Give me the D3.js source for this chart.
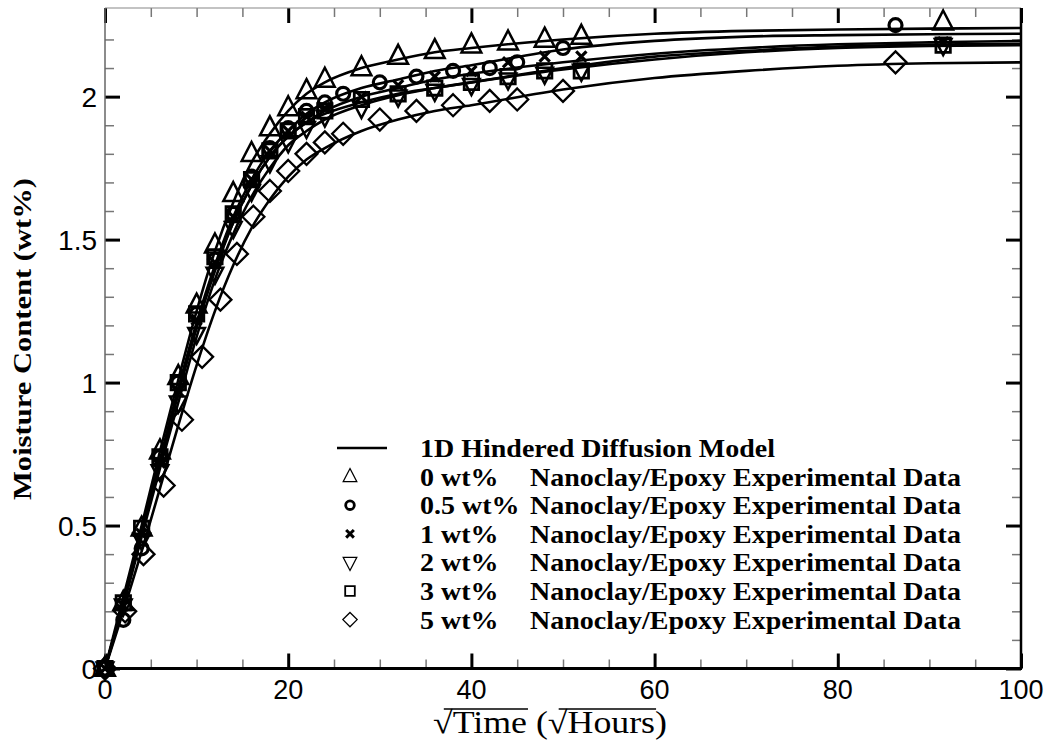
<!DOCTYPE html>
<html><head><meta charset="utf-8">
<script src="https://cdn.jsdelivr.net/npm/d3@7/dist/d3.min.js"></script>
<style>body{margin:0;background:#fff}svg{display:block}</style>
</head><body><svg id="c" width="1048" height="742"></svg>
<script>
// ---------- data ----------
const xTickValues = [0, 20, 40, 60, 80, 100];
const xTickLabels = ["0", "20", "40", "60", "80", "100"];
const yTickValues = [0, 0.5, 1, 1.5, 2];
const yTickLabels = ["0", "0.5", "1", "1.5", "2"];
const seriesLabels = ["0 wt%", "0.5 wt%", "1 wt%", "2 wt%", "3 wt%", "5 wt%"];
const legendSuffix = "Nanoclay/Epoxy Experimental Data";
const modelLabel = "1D Hindered Diffusion Model";
const xTitleParts = ["\u221A", "Time", " (", "\u221A", "Hours", ")"];
const yTitle = "Moisture Content (wt%)";

// sqrt(time) of measurements
const timeA = [0, 2, 4, 6, 8, 10, 12, 14, 16, 18, 20, 22, 24, 28, 32, 36, 40, 44, 48, 52, 91.5];
const timeB = [0, 2, 4, 6, 8, 10, 12, 14, 16, 18, 20, 22, 24, 26, 30, 34, 38, 42, 45, 50, 86.3];
const timeD = [0, 2.2, 4.2, 6.4, 8.4, 10.6, 12.6, 14.4, 16.2, 18, 20, 22, 24, 26, 30, 34, 38, 42, 45, 50, 86.3];

// measured moisture content (wt%)
const data0  = [0, 0.23, 0.49, 0.76, 1.02, 1.27, 1.48, 1.66, 1.80, 1.89, 1.96, 2.02, 2.06, 2.10, 2.14, 2.16, 2.18, 2.19, 2.20, 2.21, 2.26];
const data05 = [0, 0.17, 0.42, 0.74, 1.00, 1.24, 1.43, 1.59, 1.72, 1.82, 1.89, 1.95, 1.98, 2.01, 2.05, 2.07, 2.09, 2.10, 2.12, 2.17, 2.25];
const data1  = [0, 0.22, 0.47, 0.72, 0.97, 1.22, 1.42, 1.58, 1.71, 1.81, 1.88, 1.93, 1.96, 2.00, 2.04, 2.07, 2.09, 2.12, 2.14, 2.14, 2.19];
const data2  = [0, 0.22, 0.45, 0.69, 0.93, 1.17, 1.38, 1.54, 1.67, 1.77, 1.84, 1.89, 1.93, 1.96, 2.00, 2.02, 2.04, 2.06, 2.08, 2.09, 2.18];
const data3  = [0, 0.23, 0.49, 0.74, 1.00, 1.24, 1.44, 1.59, 1.71, 1.81, 1.88, 1.93, 1.95, 1.99, 2.01, 2.03, 2.05, 2.07, 2.09, 2.09, 2.18];
const data5  = [0, 0.20, 0.40, 0.64, 0.87, 1.09, 1.29, 1.45, 1.58, 1.67, 1.74, 1.80, 1.84, 1.87, 1.92, 1.95, 1.97, 1.985, 1.99, 2.02, 2.12];

// model curves
const modelTime = [0, 2, 4, 6, 8, 10, 12, 14, 16, 18, 20, 22, 24, 28, 32, 36, 40, 50, 60, 70, 80, 90, 100];
const model0  = [0, 0.25, 0.50, 0.76, 1.01, 1.25, 1.46, 1.63, 1.77, 1.87, 1.95, 2.01, 2.05, 2.10, 2.13, 2.155, 2.17, 2.20, 2.22, 2.23, 2.235, 2.238, 2.24];
const model05 = [0, 0.23, 0.48, 0.73, 0.98, 1.21, 1.41, 1.58, 1.71, 1.81, 1.88, 1.94, 1.98, 2.03, 2.06, 2.09, 2.11, 2.165, 2.195, 2.21, 2.215, 2.218, 2.22];
const model1  = [0, 0.23, 0.47, 0.72, 0.96, 1.19, 1.39, 1.56, 1.69, 1.79, 1.86, 1.91, 1.95, 2.00, 2.03, 2.06, 2.08, 2.12, 2.15, 2.17, 2.183, 2.19, 2.195];
const model2  = [0, 0.22, 0.46, 0.70, 0.93, 1.16, 1.36, 1.52, 1.65, 1.75, 1.83, 1.88, 1.92, 1.97, 2.005, 2.03, 2.05, 2.095, 2.13, 2.155, 2.17, 2.177, 2.18];
const model3  = [0, 0.23, 0.47, 0.72, 0.97, 1.20, 1.40, 1.56, 1.69, 1.79, 1.86, 1.91, 1.94, 1.98, 2.01, 2.03, 2.05, 2.10, 2.14, 2.16, 2.175, 2.182, 2.185];
const model5  = [0, 0.20, 0.41, 0.63, 0.85, 1.06, 1.25, 1.41, 1.54, 1.64, 1.72, 1.78, 1.82, 1.88, 1.92, 1.95, 1.97, 2.025, 2.065, 2.09, 2.108, 2.117, 2.12];

const markerTypes = ["triUp", "circle", "cross", "triDown", "square", "diamond"];

// ---------- chart ----------
const svg = d3.select("#c");
const L = 105, R = 1021, T = 8, B = 668.5;
const x = d3.scaleLinear().domain([0, 100]).range([L, R]);
const y = d3.scaleLinear().domain([0, 2.31]).range([B, T]);

const series = [
  {t: timeA, v: data0,  m: model0},
  {t: timeB, v: data05, m: model05},
  {t: timeA, v: data1,  m: model1},
  {t: timeA, v: data2,  m: model2},
  {t: timeA, v: data3,  m: model3},
  {t: timeD, v: data5,  m: model5}
];

// axes (ticks inward, mirrored)
const minorX = d3.range(0, 101, 5).filter(d => d % 20 !== 0);
const minorY = d3.range(0, 23).map(d => d / 10).filter(d => Math.round(d * 10) % 5 !== 0);

function axisGroup(makeAxis, tr, major, minor, majLen, minLen) {
  const gMin = svg.append("g").attr("transform", tr)
    .call(makeAxis().tickValues(minor).tickSize(minLen).tickFormat(""));
  gMin.select(".domain").remove();
  gMin.selectAll(".tick line").attr("stroke", "#777").attr("stroke-width", 1.5);
  const gMaj = svg.append("g").attr("transform", tr)
    .call(makeAxis().tickValues(major).tickSize(majLen).tickFormat(""));
  gMaj.select(".domain").remove();
  gMaj.selectAll(".tick line").attr("stroke", "#000").attr("stroke-width", 3);
}
axisGroup(() => d3.axisBottom(x), `translate(0,${B})`, xTickValues, minorX, -15, -9);
axisGroup(() => d3.axisTop(x), `translate(0,${T})`, xTickValues, minorX, -15, -9);
axisGroup(() => d3.axisLeft(y), `translate(${L},0)`, yTickValues, minorY, -15, -9);
axisGroup(() => d3.axisRight(y), `translate(${R},0)`, yTickValues, minorY, -15, -9);

// frame
svg.append("line").attr("x1", L).attr("x2", R).attr("y1", T).attr("y2", T).attr("stroke", "#888").attr("stroke-width", 1.2);
svg.append("line").attr("x1", L).attr("x2", L).attr("y1", T).attr("y2", B).attr("stroke", "#666").attr("stroke-width", 1.5);
svg.append("line").attr("x1", R).attr("x2", R).attr("y1", T).attr("y2", B).attr("stroke", "#000").attr("stroke-width", 2.5);
svg.append("line").attr("x1", L - 1).attr("x2", R + 1).attr("y1", B).attr("y2", B).attr("stroke", "#000").attr("stroke-width", 3);

// tick labels
svg.append("g").selectAll("text").data(xTickValues).join("text")
  .attr("x", d => x(d)).attr("y", 699).attr("text-anchor", "middle")
  .attr("font-family", "Liberation Sans, Arial, sans-serif").attr("font-size", 27)
  .text((d, i) => xTickLabels[i]);
svg.append("g").selectAll("text").data(yTickValues).join("text")
  .attr("x", 97).attr("y", d => y(d)).attr("dy", "0.36em").attr("text-anchor", "end")
  .attr("font-family", "Liberation Sans, Arial, sans-serif").attr("font-size", 28)
  .text((d, i) => yTickLabels[i]);

// titles
svg.append("text").attr("transform", `translate(31,339) rotate(-90)`)
  .attr("text-anchor", "middle").attr("font-family", "Liberation Serif, Times New Roman, serif")
  .attr("font-weight", "bold").attr("font-size", 25).attr("textLength", 322)
  .attr("lengthAdjust", "spacingAndGlyphs").text(yTitle);

const xt = svg.append("text").attr("x", 550).attr("y", 733).attr("text-anchor", "middle")
  .attr("font-family", "Liberation Serif, Times New Roman, serif").attr("font-size", 31)
  .attr("textLength", 234).attr("lengthAdjust", "spacingAndGlyphs");
xTitleParts.forEach(p => xt.append("tspan").text(p));
const txtNode = xt.node();
function overline(i0, i1) {
  let start = 0;
  for (let k = 0; k < i0; k++) start += xTitleParts[k].length;
  const len = xTitleParts[i0].length + xTitleParts[i1].length;
  const p0 = txtNode.getStartPositionOfChar(start);
  const e1 = txtNode.getEndPositionOfChar(start + len - 1);
  const bb = txtNode.getExtentOfChar(start);
  svg.append("line").attr("x1", p0.x + bb.width * 0.55).attr("x2", e1.x + 1)
    .attr("y1", bb.y + 4).attr("y2", bb.y + 4).attr("stroke", "#000").attr("stroke-width", 1.4);
}
try { overline(0, 1); overline(3, 4); } catch (e) {}

// model curves
const line = d3.line().x(d => x(d[0])).y(d => y(d[1])).curve(d3.curveMonotoneX);
svg.append("clipPath").attr("id", "plotclip").append("rect")
  .attr("x", L).attr("y", T).attr("width", R - L).attr("height", B - T);
svg.append("g").attr("clip-path", "url(#plotclip)").selectAll("path").data(series).join("path")
  .attr("d", s => line(modelTime.map((t, i) => [t, s.m[i]])))
  .attr("fill", "none").attr("stroke", "#000").attr("stroke-width", 2.6);

// marker paths
function markerPath(type, s) {
  const p = d3.path();
  if (type === "triUp") {
    p.moveTo(0, -0.62 * s); p.lineTo(0.52 * s, 0.38 * s); p.lineTo(-0.52 * s, 0.38 * s); p.closePath();
  } else if (type === "triDown") {
    p.moveTo(0, 0.62 * s); p.lineTo(0.52 * s, -0.38 * s); p.lineTo(-0.52 * s, -0.38 * s); p.closePath();
  } else if (type === "circle") {
    p.moveTo(0.36 * s, 0); p.arc(0, 0, 0.36 * s, 0, 2 * Math.PI);
  } else if (type === "cross") {
    const h = 0.32 * s;
    p.moveTo(-h, -h); p.lineTo(h, h); p.moveTo(-h, h); p.lineTo(h, -h);
  } else if (type === "square") {
    const h = 0.4 * s;
    p.rect(-h, -h, 2 * h, 2 * h);
  } else if (type === "diamond") {
    const h = 0.55 * s;
    p.moveTo(0, -h); p.lineTo(h, 0); p.lineTo(0, h); p.lineTo(-h, 0); p.closePath();
  }
  return p.toString();
}
const dataSize = [19, 18, 16, 16, 18, 20];
const dataStroke = [2.5, 3.2, 3.2, 2.5, 2.8, 2.3];

series.forEach((s, si) => {
  svg.append("g").selectAll("path").data(s.t.map((t, i) => [t, s.v[i]])).join("path")
    .attr("transform", d => `translate(${x(d[0])},${y(d[1])})`)
    .attr("d", markerPath(markerTypes[si], dataSize[si]))
    .attr("fill", "none").attr("stroke", "#000").attr("stroke-width", dataStroke[si]);
});

// legend
const lg = svg.append("g");
const rowY0 = 448, rowStep = 28.6;
lg.append("line").attr("x1", 337).attr("x2", 387).attr("y1", rowY0).attr("y2", rowY0)
  .attr("stroke", "#000").attr("stroke-width", 2.6);
const lgFamily = "Liberation Serif, Times New Roman, serif";
function legText(tx, ty, str) {
  const t = lg.append("text").attr("x", tx).attr("y", ty)
    .attr("font-family", lgFamily).attr("font-weight", "bold").attr("font-size", 28).text(str);
  const w = t.node().getComputedTextLength();
  t.attr("font-size", 25.5).attr("textLength", w).attr("lengthAdjust", "spacingAndGlyphs");
}
legText(420, rowY0 + 9, modelLabel);
const legSize = [13, 12, 12, 13, 12, 13];
const legStroke = [1.3, 2.8, 3, 1.3, 1.8, 1.3];
seriesLabels.forEach((lab, i) => {
  const cy = rowY0 + rowStep * (i + 1);
  lg.append("path").attr("transform", `translate(350,${cy})`)
    .attr("d", markerPath(markerTypes[i], legSize[i]))
    .attr("fill", "none").attr("stroke", "#000").attr("stroke-width", legStroke[i]);
  legText(420, cy + 9, lab);
  legText(530, cy + 9, legendSuffix);
});
</script></body></html>
